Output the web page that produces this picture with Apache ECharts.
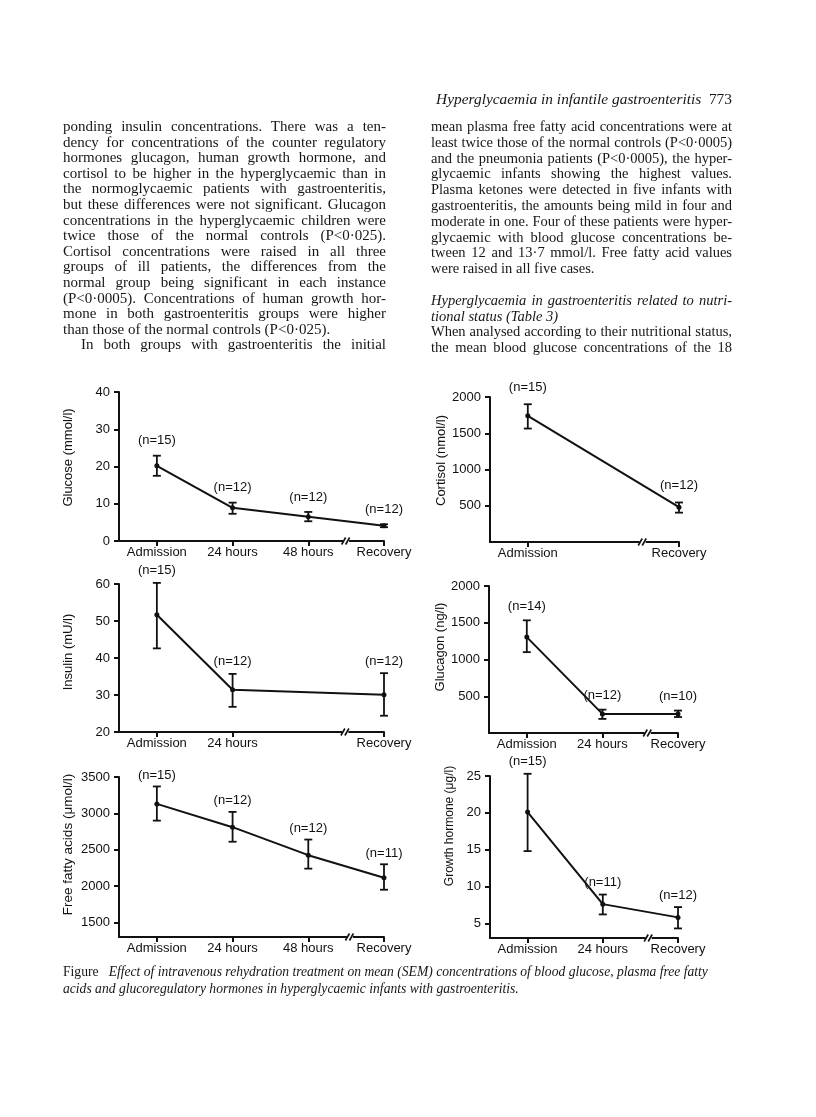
<!DOCTYPE html>
<html><head><meta charset="utf-8">
<script src="https://cdn.jsdelivr.net/npm/echarts@6/dist/echarts.min.js"></script>
<style>
html,body{margin:0;padding:0;background:#fff;}
#page{position:relative;width:816px;height:1117px;overflow:hidden;background:#fff;}
#chart{position:absolute;left:0;top:0;width:816px;height:1117px;}
.txt{position:absolute;font-family:'Liberation Serif','Times New Roman',serif;color:#161616;font-size:15px;}
.txt div{text-align:justify;text-align-last:justify;white-space:nowrap;}
.txt div.l{text-align-last:left;}
.ind{padding-left:18px;}
</style></head>
<body><div id="page">
<div id="chart"></div>
<div class="txt" style="left:421px;top:91px;width:311px;line-height:16px;font-size:15.4px;"><div class="l" style="text-align:right;text-align-last:right;"><i>Hyperglycaemia in infantile gastroenteritis</i>&nbsp;&nbsp;773</div></div>
<div class="txt" style="left:63px;top:119px;width:323px;line-height:15.6px;">
<div>ponding insulin concentrations. There was a ten-</div>
<div>dency for concentrations of the counter regulatory</div>
<div>hormones glucagon, human growth hormone, and</div>
<div>cortisol to be higher in the hyperglycaemic than in</div>
<div>the normoglycaemic patients with gastroenteritis,</div>
<div>but these differences were not significant. Glucagon</div>
<div>concentrations in the hyperglycaemic children were</div>
<div>twice those of the normal controls (P&lt;0·025).</div>
<div>Cortisol concentrations were raised in all three</div>
<div>groups of ill patients, the differences from the</div>
<div>normal group being significant in each instance</div>
<div>(P&lt;0·0005). Concentrations of human growth hor-</div>
<div>mone in both gastroenteritis groups were higher</div>
<div class="l">than those of the normal controls (P&lt;0·025).</div>
<div class="ind">In both groups with gastroenteritis the initial</div>
</div>
<div class="txt" style="left:431px;top:119px;width:301px;line-height:15.8px;font-size:14.5px;">
<div>mean plasma free fatty acid concentrations were at</div>
<div>least twice those of the normal controls (P&lt;0·0005)</div>
<div>and the pneumonia patients (P&lt;0·0005), the hyper-</div>
<div>glycaemic infants showing the highest values.</div>
<div>Plasma ketones were detected in five infants with</div>
<div>gastroenteritis, the amounts being mild in four and</div>
<div>moderate in one. Four of these patients were hyper-</div>
<div>glycaemic with blood glucose concentrations be-</div>
<div>tween 12 and 13·7 mmol/l. Free fatty acid values</div>
<div class="l">were raised in all five cases.</div>
<div class="l">&nbsp;</div>
<div><i>Hyperglycaemia in gastroenteritis related to nutri-</i></div>
<div class="l"><i>tional status (Table 3)</i></div>
<div>When analysed according to their nutritional status,</div>
<div>the mean blood glucose concentrations of the 18</div>
</div>
<div class="txt" style="left:63px;top:963px;width:680px;line-height:17px;font-size:13.6px;">
<div class="l">Figure&nbsp;&nbsp;&nbsp;<i>Effect of intravenous rehydration treatment on mean (SEM) concentrations of blood glucose, plasma free fatty</i></div>
<div class="l"><i>acids and glucoregulatory hormones in hyperglycaemic infants with gastroenteritis.</i></div>
</div>
</div>
<script>
// ---------- data ----------
const slotsFour = ['Admission', '24 hours', '48 hours', 'Recovery'];
const slotsThree = ['Admission', '24 hours', 'Recovery'];

const glucoseSlot = [0, 1, 2, 3];
const glucoseMean = [20.2, 8.9, 6.5, 4.1];
const glucoseLow = [17.5, 7.3, 5.3, 3.7];
const glucoseHigh = [22.9, 10.3, 7.8, 4.5];
const glucoseN = ['(n=15)', '(n=12)', '(n=12)', '(n=12)'];
const glucoseTicks = [0, 10, 20, 30, 40];

const cortisolSlot = [0, 2];
const cortisolMean = [1740, 480];
const cortisolLow = [1565, 405];
const cortisolHigh = [1900, 545];
const cortisolN = ['(n=15)', '(n=12)'];
const cortisolTicks = [500, 1000, 1500, 2000];

const insulinSlot = [0, 1, 3];
const insulinMean = [51.7, 31.4, 30.1];
const insulinLow = [42.6, 26.8, 24.4];
const insulinHigh = [60.3, 35.7, 35.9];
const insulinN = ['(n=15)', '(n=12)', '(n=12)'];
const insulinTicks = [20, 30, 40, 50, 60];

const glucagonSlot = [0, 1, 2];
const glucagonMean = [1305, 260, 258];
const glucagonLow = [1100, 192, 217];
const glucagonHigh = [1533, 318, 305];
const glucagonN = ['(n=14)', '(n=12)', '(n=10)'];
const glucagonTicks = [500, 1000, 1500, 2000];

const ffaSlot = [0, 1, 2, 3];
const ffaMean = [3130, 2810, 2425, 2115];
const ffaLow = [2900, 2610, 2240, 1950];
const ffaHigh = [3370, 3020, 2640, 2300];
const ffaN = ['(n=15)', '(n=12)', '(n=12)', '(n=11)'];
const ffaTicks = [1500, 2000, 2500, 3000, 3500];

const ghSlot = [0, 1, 2];
const ghMean = [20.1, 7.6, 5.8];
const ghLow = [14.8, 6.2, 4.3];
const ghHigh = [25.3, 8.9, 7.2];
const ghN = ['(n=15)', '(n=11)', '(n=12)'];
const ghTicks = [5, 10, 15, 20, 25];

// ---------- panel layout ----------
const INK = '#111';
const SANS = "'Liberation Sans', Arial, sans-serif";

const panels = [
  {slots: slotsFour, slot: glucoseSlot, mean: glucoseMean, low: glucoseLow, high: glucoseHigh, n: glucoseN, ticks: glucoseTicks,
   yMin: 0, yMax: 40, name: 'Glucose (mmol/l)', brk: 2.5,
   grid: {left: 119, top: 392, width: 265, height: 149}, nameGap: 44, namePad: 18, nameSize: 13, nOff: 15},
  {slots: slotsThree, slot: cortisolSlot, mean: cortisolMean, low: cortisolLow, high: cortisolHigh, n: cortisolN, ticks: cortisolTicks,
   yMin: 0, yMax: 2000, name: 'Cortisol (nmol/l)', brk: 1.52,
   grid: {left: 490, top: 397, width: 189, height: 145}, nameGap: 42, namePad: 18, nameSize: 13, nOff: 17},
  {slots: slotsFour, slot: insulinSlot, mean: insulinMean, low: insulinLow, high: insulinHigh, n: insulinN, ticks: insulinTicks,
   yMin: 20, yMax: 60, name: 'Insulin (mU/l)', brk: 2.49,
   grid: {left: 119, top: 584, width: 265, height: 148}, nameGap: 44, namePad: 12, nameSize: 13, nOff: 12},
  {slots: slotsThree, slot: glucagonSlot, mean: glucagonMean, low: glucagonLow, high: glucagonHigh, n: glucagonN, ticks: glucagonTicks,
   yMin: 0, yMax: 2000, name: 'Glucagon (ng/l)', brk: 1.6,
   grid: {left: 489, top: 586, width: 189, height: 147}, nameGap: 42, namePad: 25, nameSize: 13, nOff: 14},
  {slots: slotsFour, slot: ffaSlot, mean: ffaMean, low: ffaLow, high: ffaHigh, n: ffaN, ticks: ffaTicks,
   yMin: 1300, yMax: 3500, name: 'Free fatty acids (\u03bcmol/l)', brk: 2.55,
   grid: {left: 119, top: 777, width: 265, height: 160}, nameGap: 44, namePad: 25, nameSize: 13.5, nOff: 11},
  {slots: slotsThree, slot: ghSlot, mean: ghMean, low: ghLow, high: ghHigh, n: ghN, ticks: ghTicks,
   yMin: 3, yMax: 25, name: 'Growth hormone (\u03bcg/l)', brk: 1.61,
   grid: {left: 490, top: 776, width: 188, height: 162}, nameGap: 34, namePad: 62, nameSize: 12, nOff: 12}
];

const grids = [], xAxes = [], yAxes = [], series = [];

panels.forEach(function (p, i) {
  grids.push(Object.assign({containLabel: false, outerBoundsMode: 'none'}, p.grid));
  xAxes.push({
    type: 'value', gridIndex: i, min: -0.5, max: p.slots.length - 1,
    axisLine: {show: true, onZero: false, lineStyle: {color: INK, width: 2}},
    axisTick: {show: true, length: 5, lineStyle: {color: INK, width: 2}, customValues: p.slot},
    axisLabel: {show: true, margin: 5, color: INK, fontFamily: SANS, fontSize: 13, customValues: p.slot,
      formatter: function (v) { return p.slots[Math.round(v)] || ''; }},
    splitLine: {show: false}
  });
  yAxes.push({
    type: 'value', gridIndex: i, min: p.yMin, max: p.yMax,
    name: p.name, nameLocation: 'middle', nameGap: p.nameGap, nameRotate: 90,
    nameTextStyle: {color: INK, fontFamily: SANS, fontSize: p.nameSize, padding: [0, 0, 0, p.namePad]},
    axisLine: {show: true, onZero: false, lineStyle: {color: INK, width: 2}},
    axisTick: {show: true, length: 5, lineStyle: {color: INK, width: 2}, customValues: p.ticks},
    axisLabel: {show: true, margin: 9, color: INK, fontFamily: SANS, fontSize: 13, customValues: p.ticks,
      formatter: function (v) { return String(v); }},
    splitLine: {show: false}
  });
  // mean line
  series.push({
    type: 'line', xAxisIndex: i, yAxisIndex: i, animation: false,
    data: p.slot.map(function (s, k) { return [s, p.mean[k]]; }),
    symbol: 'circle', symbolSize: 5, showSymbol: true,
    lineStyle: {color: INK, width: 2}, itemStyle: {color: INK}, z: 3
  });
  // error bars + n labels
  series.push({
    type: 'custom', xAxisIndex: i, yAxisIndex: i, animation: false, clip: false, z: 4,
    data: p.slot.map(function (s, k) { return [s, p.low[k], p.high[k]]; }),
    encode: {x: 0, y: [1, 2]},
    renderItem: function (params, api) {
      const x = api.value(0);
      const a = api.coord([x, api.value(1)]);
      const b = api.coord([x, api.value(2)]);
      const w = 4, st = {stroke: INK, lineWidth: 1.8};
      return {type: 'group', children: [
        {type: 'line', shape: {x1: a[0], y1: a[1], x2: b[0], y2: b[1]}, style: st},
        {type: 'line', shape: {x1: a[0] - w, y1: a[1], x2: a[0] + w, y2: a[1]}, style: st},
        {type: 'line', shape: {x1: b[0] - w, y1: b[1], x2: b[0] + w, y2: b[1]}, style: st},
        {type: 'text', x: b[0], y: b[1] - p.nOff, style: {text: p.n[params.dataIndex], fill: INK,
          font: '13px ' + SANS, textAlign: 'center', textVerticalAlign: 'middle'}}
      ]};
    }
  });
  // axis break marks
  series.push({
    type: 'custom', xAxisIndex: i, yAxisIndex: i, animation: false, clip: false, z: 6, silent: true,
    data: [[p.brk, p.yMin]],
    renderItem: function (params, api) {
      const c = api.coord([api.value(0), api.value(1)]);
      const st = {stroke: INK, lineWidth: 1.6};
      return {type: 'group', children: [
        {type: 'rect', shape: {x: c[0] - 3, y: c[1] - 2.5, width: 6, height: 5}, style: {fill: '#fff'}},
        {type: 'line', shape: {x1: c[0] - 4.5, y1: c[1] + 3.5, x2: c[0] - 0.5, y2: c[1] - 3.5}, style: st},
        {type: 'line', shape: {x1: c[0] - 0.5, y1: c[1] + 3.5, x2: c[0] + 3.5, y2: c[1] - 3.5}, style: st}
      ]};
    }
  });
});

const chart = echarts.init(document.getElementById('chart'), null, {renderer: 'canvas'});
chart.setOption({
  animation: false,
  backgroundColor: 'transparent',
  grid: grids, xAxis: xAxes, yAxis: yAxes, series: series
});
</script>
</body></html>
